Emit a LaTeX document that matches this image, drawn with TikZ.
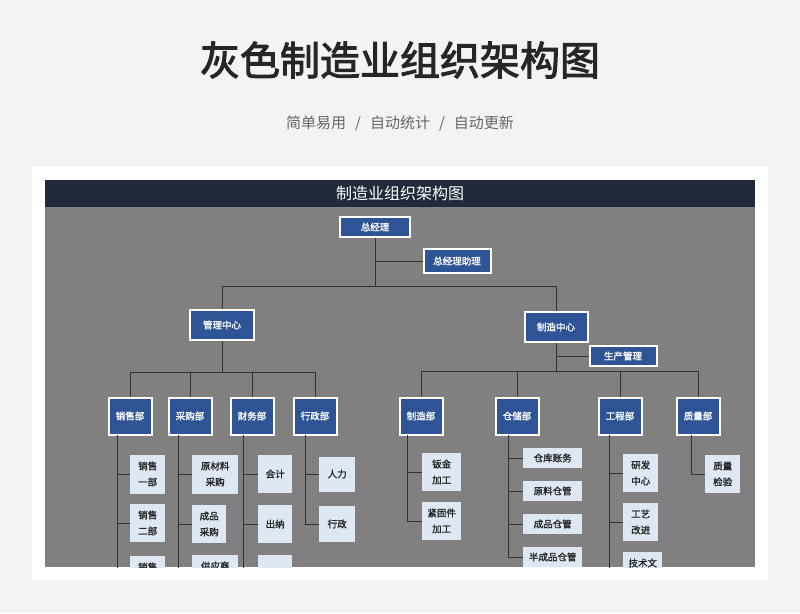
\documentclass[tikz,border=0pt]{standalone}
\usepackage{fontspec}
\newfontfamily\cjk{Noto Sans CJK SC}
\newfontfamily\cjkb{Noto Sans CJK SC}[FakeBold=2.5]
\newfontfamily\cjkm{Noto Sans CJK SC}[FakeBold=1.5]
\definecolor{bg}{HTML}{F2F3F5}
\definecolor{panel}{HTML}{808080}
\definecolor{head}{HTML}{1F2A3A}
\definecolor{dept}{HTML}{2F5496}
\definecolor{leaf}{HTML}{DDE8F4}
\begin{document}
\begin{tikzpicture}[x=1pt,y=-1pt,
  top/.style={draw=white,line width=2pt,fill=dept,text=white,font=\cjkm\fontsize{9.5}{10}\selectfont,inner sep=0pt},
  lf/.style={fill=leaf,text=black!85,font=\cjkm\fontsize{9.5}{16}\selectfont,inner sep=0pt,align=center},
  ln/.style={draw=black!80,line width=0.8pt}]
\useasboundingbox (0,0) rectangle (800,613);
\fill[bg] (0,0) rectangle (800,613);
\fill[white] (32,166) rectangle (768,580);
\node[font=\cjkb\fontsize{40}{44}\selectfont,text=black!85] (title) at (400,60) {灰色制造业组织架构图};
\node[font=\cjk\fontsize{15}{16}\selectfont,text=black!60] (sub) at (400,124) {简单易用\hspace{0.6em}/\hspace{0.6em}自动统计\hspace{0.6em}/\hspace{0.6em}自动更新};
\begin{scope}
\clip (45,180) rectangle (755,567);
\fill[panel] (45,180) rectangle (755,567);
\fill[head] (45,180) rectangle (755,207);
\node[font=\cjk\fontsize{16}{17}\selectfont,text=white] (ht) at (400,193) {制造业组织架构图};
\node[top,minimum width=70pt,minimum height=20pt] (gm) at (375,227) {总经理};
\node[top,minimum width=67pt,minimum height=24pt] (ga) at (457,261) {总经理助理};
\node[top,minimum width=64pt,minimum height=30pt] (mc) at (222,325) {管理中心};
\node[top,minimum width=63pt,minimum height=30pt] (pc) at (556,327) {制造中心};
\node[top,minimum width=67pt,minimum height=20pt] (pm) at (623,356) {生产管理};
\foreach \n/\x/\t in {d1/130/销售部,d2/190/采购部,d3/252/财务部,d4/315/行政部,d5/421/制造部,d6/517/仓储部,d7/620/工程部,d8/698/质量部}
  \node[top,minimum width=43pt,minimum height=37pt] (\n) at (\x,416) {\t};
\draw[ln] (gm.south) -- (375,286);
\draw[ln] (375,261) -- (ga.west);
\draw[ln] (222,286) -- (556,286);
\draw[ln] (222,286) -- (mc.north);
\draw[ln] (556,286) -- (pc.north);
\draw[ln] (mc.south) -- (222,372);
\draw[ln] (130,372) -- (315,372);
\foreach \n in {d1,d2,d3,d4} \draw[ln] (\n.north) -- (\n.north|-0,372);
\draw[ln] (pc.south) -- (556,371);
\draw[ln] (556,356) -- (pm.west);
\draw[ln] (421,371) -- (698,371);
\foreach \n in {d5,d6,d7,d8} \draw[ln] (\n.north) -- (\n.north|-0,371);
\newcommand\leafbox[6]{\node[lf,minimum width=#3pt,minimum height=#5pt,anchor=west] (#6) at (#2,#4) {#1};}
\leafbox{销售\\一部}{130}{35}{474}{39}{s1}
\leafbox{销售\\二部}{130}{35}{523}{38}{s2}
\leafbox{销售\\三部}{130}{35}{575}{38}{s3}
\leafbox{原材料\\采购}{192}{46}{474}{39}{p1}
\leafbox{成品\\采购}{192}{34}{524}{38}{p2}
\leafbox{供应商\\管理}{192}{46}{574}{38}{p3}
\leafbox{会计}{258}{34}{474}{38}{f1}
\leafbox{出纳}{258}{34}{524}{38}{f2}
\leafbox{}{258}{34}{574}{38}{f3}
\leafbox{人力}{319}{36}{474}{35}{a1}
\leafbox{行政}{319}{36}{524}{36}{a2}
\leafbox{钣金\\加工}{422}{39}{472}{38}{m1}
\leafbox{紧固件\\加工}{422}{39}{521}{38}{m2}
\leafbox{仓库账务}{523}{59}{458}{20}{w1}
\leafbox{原料仓管}{523}{59}{491}{20}{w2}
\leafbox{成品仓管}{523}{59}{524}{20}{w3}
\leafbox{半成品仓管}{523}{59}{557}{20}{w4}
\leafbox{研发\\中心}{623}{35}{473}{38}{e1}
\leafbox{工艺\\改进}{623}{35}{522}{38}{e2}
\leafbox{技术文\\档}{623}{39}{571}{38}{e3}
\leafbox{质量\\检验}{705}{35}{474}{38}{q1}
\foreach \d/\sx/\ls in {d1/117/{s1,s2,s3},d2/178/{p1,p2,p3},d3/243/{f1,f2,f3},d4/305/{a1,a2},d5/407/{m1,m2},d6/508/{w1,w2,w3,w4},d7/609/{e1,e2,e3},d8/691/{q1}}{
  \foreach \l in \ls {\draw[ln] (\sx,435) |- (\l.west);}
}
\end{scope}
\end{tikzpicture}
\end{document}
